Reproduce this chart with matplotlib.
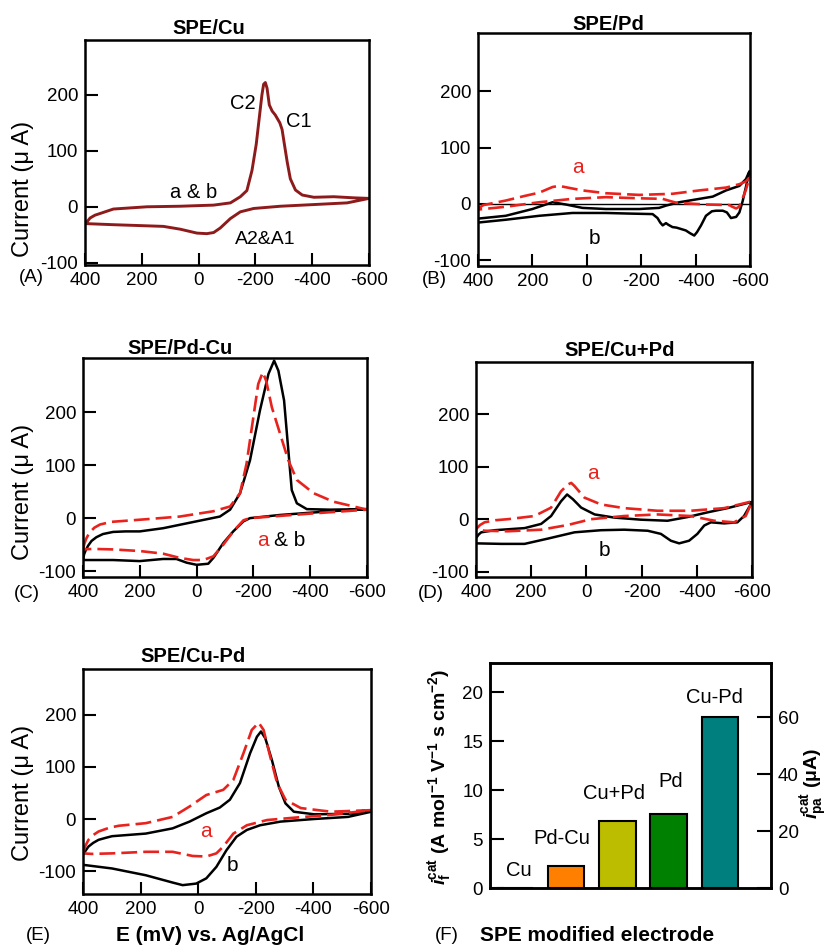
import matplotlib
matplotlib.use('Agg')
import matplotlib.pyplot as plt

plt.rcParams['font.family'] = ['Liberation Sans', 'DejaVu Sans']
plt.rcParams['axes.unicode_minus'] = False
plt.rcParams['mathtext.fontset'] = 'custom'
plt.rcParams['mathtext.rm'] = 'Liberation Sans'
plt.rcParams['mathtext.it'] = 'Liberation Sans:italic'
plt.rcParams['mathtext.bf'] = 'Liberation Sans:bold'
try:
    plt.rcParams['mathtext.bfit'] = 'Liberation Sans:italic:bold'
except Exception:
    pass

# ---------------- data (E in mV, I in uA) ----------------
# Panel A: SPE/Cu (a & b coincide)
A_E = [400, 390, 382, 365, 347, 300, 182, 65, -53, -112, -147, -170, -188, -203, -215, -223, -229, -235, -241, -249,
       -259, -270, -286, -294, -302, -312, -323, -341, -365, -406, -476, -547, -600, -523, -406, -288,
       -194, -147, -112, -76, -53, -29, 6, 65, 124, 182, 300, 400]
A_I = [-30, -25, -20, -15, -12, -4, 0, 1, 3, 7, 18, 29, 65, 112, 165, 200, 219, 222, 212, 182,
       171, 164, 150, 138, 112, 80, 50, 30, 21, 17, 18, 16, 15, 7, 4, 1,
       -3, -9, -21, -38, -46, -48, -47, -40, -35, -34, -32, -30]

# Panel B: SPE/Pd
B_a_E = [400, 380, 298, 230, 175, 126, 102, 60, 16, -70, -193, -315, -414, -512, -561, -585, -598,
         -585, -573, -560, -549, -535, -524, -438, -330, -300, -279, -193, -70, 53, 175, 298, 400]
B_a_I = [-8, -2, 6, 14, 20, 30, 32, 28, 24, 19, 16, 18, 24, 29, 35, 40, 47,
         25, 10, -5, -8, -5, -2, -1, 2, 6, 9, 10, 12, 9, 3, -5, -10]
B_b_E = [400, 298, 200, 126, 77, 16, -70, -193, -266, -291, -340, -414, -463, -512, -561, -585, -598,
         -585, -573, -561, -549, -530, -515, -500, -475, -460, -438, -420, -405, -395, -380, -364, -330,
         -315, -300, -291, -279, -270, -260, -242, -150, -70, 53, 175, 298, 400]
B_b_I = [-26, -21, -9, 3, -1, -7, -9, -9, -7, -3, 3, 9, 13, 24, 32, 44, 58,
         30, 5, -15, -23, -25, -15, -12, -12, -13, -21, -38, -50, -56, -52, -47, -42,
         -41, -37, -34, -38, -33, -25, -18, -17, -16, -16, -21, -28, -33]

# Panel C: SPE/Pd-Cu
C_a_E = [400, 395, 388, 378, 360, 340, 300, 250, 176, 59, -59, -118, -153, -176, -200, -217, -233, -245, -265, -294,
         -323, -353, -412, -482, -553, -600, -412, -188, -165, -129, -94, -59, -24, 12, 59, 118, 200,
         294, 365, 400]
C_a_I = [-59, -48, -38, -28, -18, -12, -7, -5, -2, 3, 13, 22, 47, 103, 191, 253, 275, 259, 209, 159,
         109, 72, 47, 31, 22, 16, 9, 0, -4, -25, -50, -72, -79, -79, -75, -67, -62,
         -59, -58, -59]
C_b_E = [400, 396, 390, 382, 370, 353, 330, 294, 250, 200, 118, 0, -82, -118, -153, -188, -223, -253, -273, -288, -308,
         -323, -335, -353, -388, -470, -600, -470, -294, -188, -165, -129, -94, -59, -41, 0, 35, 71,
         118, 200, 294, 400]
C_b_I = [-78, -68, -60, -52, -43, -36, -30, -26, -25, -25, -19, -6, 3, 16, 47, 109, 203, 272, 297, 278, 222,
         128, 53, 28, 17, 16, 17, 13, 6, 0, -6, -25, -47, -75, -86, -88, -84, -77,
         -77, -81, -79, -79]

# Panel D: SPE/Cu+Pd
D_a_E = [400, 385, 369, 330, 284, 188, 128, 92, 67, 55, 43, 7, -53, -137, -258, -378, -499, -601,
         -577, -535, -463, -378, -258, -137, -17, 67, 164, 284, 369, 400]
D_a_I = [-19, -11, -6, -2, 0, 6, 22, 53, 66, 69, 63, 41, 28, 21, 16, 16, 21, 34,
         6, -6, -3, 6, 9, 6, 0, -11, -20, -23, -22, -19]
D_b_E = [400, 390, 381, 333, 224, 164, 128, 92, 70, 49, 19, -30, -101, -198, -294, -366, -439, -511, -601,
         -571, -547, -499, -451, -427, -402, -372, -336, -306, -270, -222, -137, -53, 43, 140, 224,
         308, 400]
D_b_I = [-36, -29, -25, -21, -17, -9, 6, 34, 47, 38, 22, 9, 3, -1, -3, 4, 13, 21, 33,
         6, -6, -8, -6, -12, -28, -41, -46, -41, -28, -22, -20, -21, -25, -37, -47,
         -47, -46]

# Panel E: SPE/Cu-Pd
E_a_E = [400, 392, 381, 365, 346, 310, 276, 182, 89, 30, -28, -87, -122, -157, -186, -210, -227, -250, -274, -303,
         -356, -461, -601, -461, -344, -239, -169, -122, -87, -63, -28, 19, 89, 182, 299, 370, 400]
E_a_I = [-66, -52, -40, -31, -24, -17, -13, -8, 4, 24, 46, 56, 75, 126, 171, 185, 171, 120, 69, 37,
         21, 14, 17, 8, 3, -2, -12, -28, -53, -66, -72, -71, -63, -63, -66, -67, -66]
E_b_E = [400, 390, 381, 365, 346, 320, 299, 182, 89, 30, -28, -75, -110, -145, -180, -204, -218, -233, -256, -280,
         -303, -332, -403, -520, -601, -520, -403, -286, -215, -169, -133, -98, -63, -28, 7, 54, 89,
         182, 299, 400]
E_b_I = [-69, -60, -53, -46, -40, -36, -33, -28, -18, -5, 11, 22, 37, 69, 126, 158, 168, 155, 113, 62,
         30, 14, 9, 10, 14, 4, 0, -5, -12, -21, -34, -60, -92, -114, -124, -127, -122,
         -108, -95, -88]

# Panel F: bar chart
F_labels = ['Cu', 'Pd-Cu', 'Cu+Pd', 'Pd', 'Cu-Pd']
F_values = [0.05, 2.27, 6.87, 7.52, 17.48]
F_colors = ['#000000', '#FF8000', '#BDBD00', '#008000', '#007F7F']

x_ticks = [400, 200, 0, -200, -400, -600]
y_ticks = [-100, 0, 100, 200]

# ---------------- layout ----------------
W, H = 831, 946
fig = plt.figure(figsize=(W / 100, H / 100), dpi=100)


def box(l, r, t, b):
    return [l / W, 1 - b / H, (r - l) / W, (b - t) / H]


def ftext(x, y, s, **kw):
    fig.text(x / W, 1 - y / H, s, ha=kw.pop('ha', 'center'), va=kw.pop('va', 'center'), **kw)


RED = '#E8231E'
BLK = '#000000'
DARKRED = '#8E1B1B'


def setup_cv(ax, ylim):
    ax.set_xlim(400, -600)
    ax.set_ylim(*ylim)
    ax.set_xticks(x_ticks)
    ax.set_yticks(y_ticks)
    ax.tick_params(direction='in', length=9, width=1.5, labelsize=13.5, pad=5)
    for s in ax.spines.values():
        s.set_linewidth(1.8)


def red(ax, E, I):
    ax.plot(E, I, color=RED, lw=1.9, dashes=(6, 2.3), solid_capstyle='butt')


def blk(ax, E, I):
    ax.plot(E, I, color=BLK, lw=1.8)


# A
axA = fig.add_axes(box(85, 369, 40, 265))
setup_cv(axA, (-104, 298))
axA.plot(A_E, A_I, color=DARKRED, lw=2.1)
axA.text(-155, 185, 'C2', fontsize=14.5, ha='center', va='center')
axA.text(-353, 153, 'C1', fontsize=14.5, ha='center', va='center')
axA.text(18, 25, 'a & b', fontsize=14.5, ha='center', va='center')
axA.text(-235, -59, 'A2&A1', fontsize=14, ha='center', va='center')

# B
axB = fig.add_axes(box(478, 750, 33, 266))
setup_cv(axB, (-110, 303))
axB.axhline(0, color='black', lw=1.0)
blk(axB, B_b_E, B_b_I)
red(axB, B_a_E, B_a_I)
axB.text(34, 65, 'a', color=RED, fontsize=15, ha='center', va='center')
axB.text(-27, -62, 'b', color=BLK, fontsize=15, ha='center', va='center')

# C
axC = fig.add_axes(box(83, 367, 358, 577))
setup_cv(axC, (-111, 302))
blk(axC, C_b_E, C_b_I)
red(axC, C_a_E, C_a_I)
axC.text(-233, -42, 'a', color=RED, fontsize=15, ha='center', va='center')
axC.text(-329, -42, '& b', color=BLK, fontsize=15, ha='center', va='center')

# D
axD = fig.add_axes(box(476, 752, 362, 577))
setup_cv(axD, (-110, 299))
blk(axD, D_b_E, D_b_I)
red(axD, D_a_E, D_a_I)
axD.text(-23, 87, 'a', color=RED, fontsize=15, ha='center', va='center')
axD.text(-65, -59, 'b', color=BLK, fontsize=15, ha='center', va='center')

# E
axE = fig.add_axes(box(83, 371, 669, 894))
setup_cv(axE, (-144, 288))
blk(axE, E_b_E, E_b_I)
red(axE, E_a_E, E_a_I)
axE.text(-26, -24, 'a', color=RED, fontsize=15, ha='center', va='center')
axE.text(-119, -90, 'b', color=BLK, fontsize=15, ha='center', va='center')

# F
axF = fig.add_axes(box(490, 771, 663, 888))
xpos = list(range(len(F_labels)))
axF.bar(xpos, F_values, width=0.71, color=F_colors, edgecolor='black', linewidth=1.5)
axF.set_xlim(-0.49, 5.0)
axF.set_ylim(0, 23)
axF.set_xticks([])
axF.set_yticks([0, 5, 10, 15, 20])
axF.tick_params(axis='y', direction='in', length=10, width=1.5, labelsize=13.5, pad=5)
for s in axF.spines.values():
    s.set_linewidth(1.8)
axF2 = axF.twinx()
axF2.set_ylim(0, 79)
axF2.set_yticks([0, 20, 40, 60])
axF2.tick_params(axis='y', direction='in', length=10, width=1.5, labelsize=13.5, pad=5)
for s in axF2.spines.values():
    s.set_linewidth(1.8)
lab_off = [(0.08, 1.84), (0.91, 5.07), (1.93, 9.66), (3.04, 10.9), (3.89, 19.5)]
for lab, (lx, ly) in zip(F_labels, lab_off):
    axF.text(lx, ly, lab, fontsize=14.5, ha='center', va='center')

# figure texts
for x, y, s in [(209, 28, 'SPE/Cu'), (608, 25, 'SPE/Pd'), (180, 348, 'SPE/Pd-Cu'),
                (620, 350, 'SPE/Cu+Pd'), (193, 656, 'SPE/Cu-Pd')]:
    ftext(x, y, s, fontsize=14.5, fontweight='bold')
for x, y, s in [(31, 277, '(A)'), (434, 279, '(B)'), (27, 594, '(C)'), (431, 594, '(D)'),
                (38, 935, '(E)'), (447, 935, '(F)')]:
    ftext(x, y, s, fontsize=13.5)
for y in [189, 492, 793]:
    ftext(23, y, 'Current (\u03bc A)', fontsize=17, rotation=90)
ftext(210, 935, 'E (mV) vs. Ag/AgCl', fontsize=15, fontweight='bold')
ftext(480, 935, 'SPE modified electrode', fontsize=15, fontweight='bold', ha='left')
ftext(440, 777, r'$\mathbfit{i}_{\mathbf{f}}^{\mathbf{cat}}$ (A mol$^{\mathbf{-1}}$ V$^{\mathbf{-1}}$ s cm$^{\mathbf{-2}}$)',
      fontsize=14, fontweight='bold', rotation=90)
ftext(814, 783, r'$\mathbfit{i}_{\mathbf{pa}}^{\mathbf{cat}}$ ($\mathbf{\mu}$A)', fontsize=14,
      fontweight='bold', rotation=90)

fig.savefig('out.png', dpi=100)
